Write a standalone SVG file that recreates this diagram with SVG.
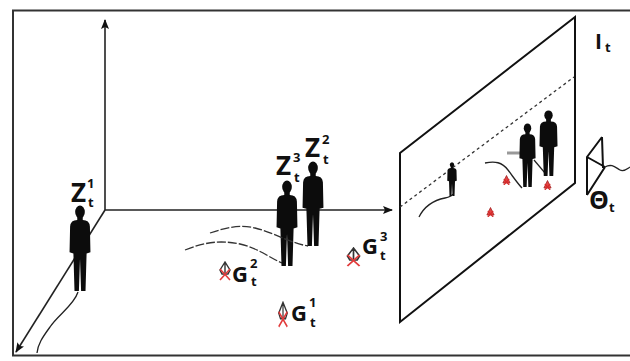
<svg xmlns="http://www.w3.org/2000/svg" width="630" height="361" viewBox="0 0 630 361">
  <defs>
    <style>
      .lbl { font-family: "Open Sans", "Liberation Sans", sans-serif; font-weight: 700; fill: #111; }
      .big { font-size: 26px; }
      .mid { font-size: 22px; }
      .sup { font-size: 13px; font-weight: 700; }
      .axis { stroke: #222; stroke-width: 1.6; fill: none; }
      .edge { stroke: #111; stroke-width: 2; fill: none; }
      .trail { stroke: #222; stroke-width: 1.3; fill: none; }
      .dash { stroke: #333; stroke-width: 1.3; fill: none; stroke-dasharray: 9 2; }
      .fig { fill: #0c0c0c; }
    </style>
    <marker id="arrow" markerWidth="10" markerHeight="8" refX="9" refY="4" orient="auto" markerUnits="userSpaceOnUse">
      <path d="M0,0 L10,4 L0,8 L2,4 Z" fill="#111"/>
    </marker>
    <!-- standing person silhouette -->
    <symbol id="person" viewBox="0 0 20 80" preserveAspectRatio="none">
      <ellipse cx="10" cy="6.5" rx="4.4" ry="6"/>
      <path d="M7.5,11 L12.5,11 L12.5,14 Q18.5,14 19,20 L19.5,44 L16,45 L15,80 L11,80 L10,50 L9,80 L5,80 L4,45 L0.5,44 L1,20 Q1.5,14 7.5,14 Z"/>
    </symbol>
    <!-- ground marker: small pyramid outline crossed in red -->
    <symbol id="gmark" viewBox="0 0 14 20" preserveAspectRatio="none">
      <path d="M7,1 L2,9 L4,13 L10,13 L12,9 Z M7,1 L7,13" fill="none" stroke="#333" stroke-width="1.4"/>
      <path d="M2,8 L12,19 M12,8 L2,19" stroke="#e23b3b" stroke-width="1.6"/>
    </symbol>
    <symbol id="gdot" viewBox="0 0 10 10" preserveAspectRatio="none">
      <path d="M5,0.5 L1,8 L9,8 Z" fill="#e54444" stroke="#a02020" stroke-width="0.8"/>
      <path d="M2,4 L8,10 M8,4 L2,10" stroke="#d62a2a" stroke-width="1.3"/>
    </symbol>
  </defs>

  <!-- outer frame -->
  <rect x="13" y="10.5" width="640" height="345" fill="#fff" stroke="#333" stroke-width="2"/>

  <!-- world axes -->
  <g id="connectors">
    <line class="axis" x1="105" y1="210" x2="105" y2="20" marker-end="url(#arrow)"/>
    <line class="axis" x1="105" y1="210" x2="392" y2="210" marker-end="url(#arrow)"/>
    <line class="axis" x1="105" y1="210" x2="16" y2="352" marker-end="url(#arrow)"/>
  </g>

  <!-- person Z1 with its trail -->
  <g id="z1">
    <path class="trail" d="M78,292 C74,305 58,315 50,327 C42,338 38,344 37,353"/>
    <use href="#person" class="fig" x="69" y="205" width="22" height="86"/>
    <text class="lbl big" x="71" y="202">Z</text>
    <text class="lbl sup" x="87" y="188">1</text>
    <text class="lbl sup" x="88" y="207">t</text>
  </g>

  <!-- persons Z3 and Z2 with trails -->
  <g id="z3">
    <path class="dash" d="M185,250 C205,242 220,240 240,244 C258,248 270,258 282,263"/>
    <use href="#person" class="fig" x="276" y="180" width="22" height="86"/>
    <text class="lbl big" x="276" y="175">Z</text>
    <text class="lbl sup" x="293" y="162">3</text>
    <text class="lbl sup" x="294" y="182">t</text>
  </g>
  <g id="z2">
    <path class="dash" d="M210,233 C225,228 240,224 255,228 C275,233 290,243 308,246"/>
    <use href="#person" class="fig" x="302" y="161" width="22" height="85"/>
    <text class="lbl big" x="305" y="157">Z</text>
    <text class="lbl sup" x="322" y="144">2</text>
    <text class="lbl sup" x="323" y="164">t</text>
  </g>

  <!-- ground markers -->
  <g id="g2">
    <use href="#gmark" x="218" y="261" width="14" height="20"/>
    <text class="lbl mid" x="232" y="282">G</text>
    <text class="lbl sup" x="250" y="268">2</text>
    <text class="lbl sup" x="251" y="286">t</text>
  </g>
  <g id="g1">
    <use href="#gmark" x="277" y="301" width="12" height="27"/>
    <text class="lbl mid" x="291" y="321">G</text>
    <text class="lbl sup" x="309" y="307">1</text>
    <text class="lbl sup" x="310" y="327">t</text>
  </g>
  <g id="g3">
    <use href="#gmark" x="345" y="247" width="17" height="20"/>
    <text class="lbl mid" x="362" y="254">G</text>
    <text class="lbl sup" x="380" y="241">3</text>
    <text class="lbl sup" x="380" y="260">t</text>
  </g>

  <!-- image plane with projected scene -->
  <g id="image-plane">
    <path class="edge" d="M400,153 L575,17 L575,183 L400,322 Z"/>
    <line x1="400" y1="207" x2="574" y2="77" stroke="#333" stroke-width="1.3" stroke-dasharray="3 3"/>
    <path class="trail" d="M419,217 C425,205 435,200 445,198 C450,197 452,196 453,194"/>
    <use href="#person" class="fig" x="447" y="162" width="10" height="34"/>
    <path class="trail" d="M485,163 C495,161 502,162 508,170 C514,178 518,184 522,188"/>
    <line x1="507" y1="153" x2="521" y2="153" stroke="#999" stroke-width="3"/>
    <line x1="534" y1="160" x2="545" y2="173" stroke="#222" stroke-width="1.2"/>
    <use href="#person" class="fig" x="519" y="123" width="17" height="64"/>
    <use href="#person" class="fig" x="539" y="110" width="19" height="66"/>
    <use href="#gdot" x="502" y="175" width="9" height="10"/>
    <use href="#gdot" x="543" y="180" width="9" height="10"/>
    <use href="#gdot" x="486" y="207" width="9" height="10"/>
    <text class="lbl" x="595" y="49" font-size="21" font-weight="600">I</text>
    <text class="lbl sup" x="605" y="52">t</text>
  </g>

  <!-- camera -->
  <g id="camera">
    <path d="M602,137 L587,157 L587,195 M602,137 L603,168 M587,157 L605,167 M587,195 L605,167" fill="none" stroke="#111" stroke-width="2"/>
    <path d="M605,167 C612,163 616,168 620,170 C624,172 627,169 630,167" fill="none" stroke="#222" stroke-width="1.3"/>
    <text class="lbl" x="589" y="209" font-size="25" font-weight="600">Θ</text>
    <text class="lbl sup" x="609" y="212">t</text>
  </g>
</svg>
